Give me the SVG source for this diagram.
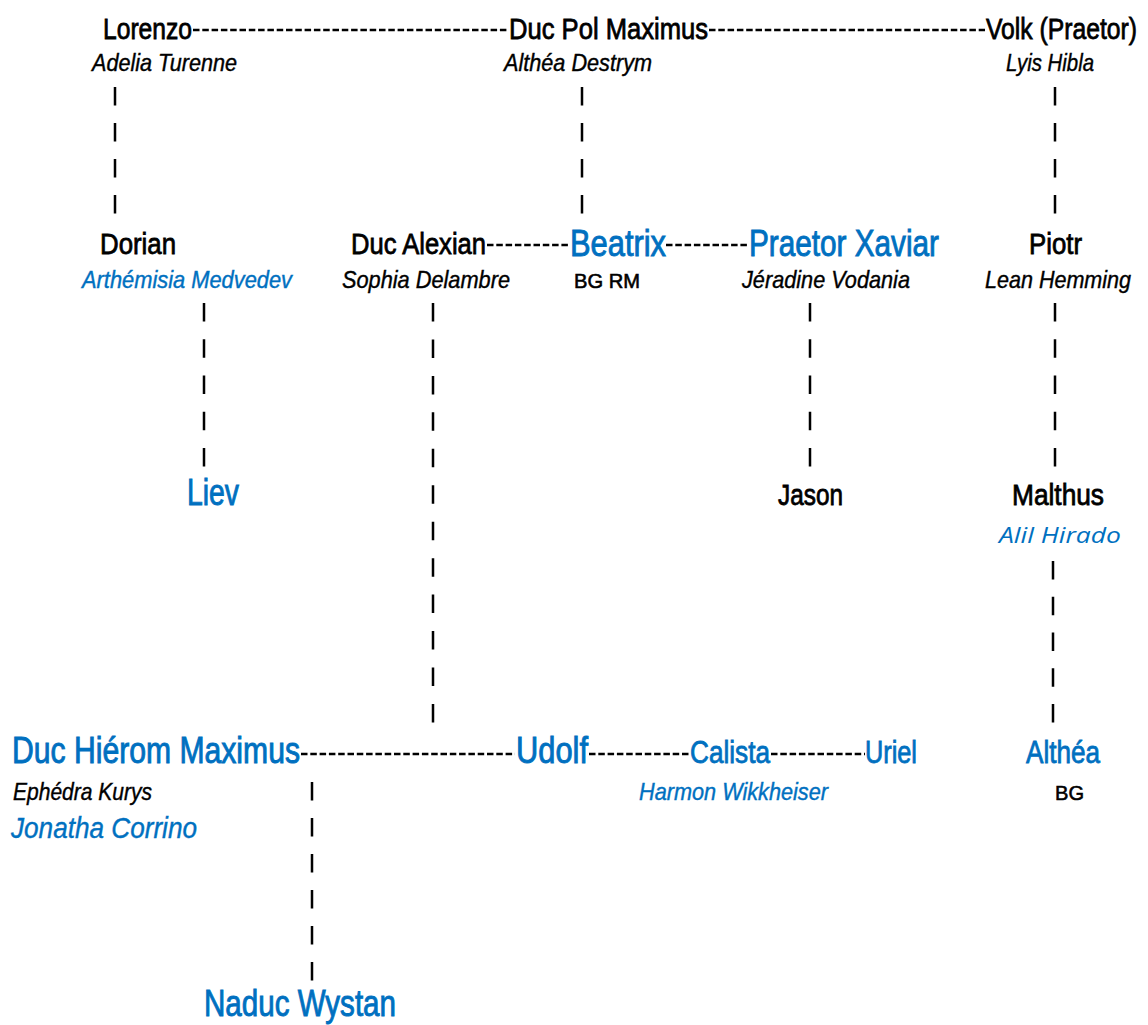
<svg xmlns="http://www.w3.org/2000/svg" width="1148" height="1025" viewBox="0 0 1148 1025">
<style>
text{font-family:"Liberation Sans Narrow","Liberation Sans",sans-serif;}
.n{font-size:30px;fill:#000;stroke:#000;stroke-width:0.8px;}
.bl{font-size:36px;fill:#0070C0;stroke:#0070C0;stroke-width:0.9px;}
.bm{font-size:31px;fill:#0070C0;stroke:#0070C0;stroke-width:0.8px;}
.s{font-size:24px;font-style:italic;fill:#000;stroke:#000;stroke-width:0.4px;}
.sb{font-size:24px;font-style:italic;fill:#0070C0;stroke:#0070C0;stroke-width:0.4px;}
.r{font-size:21px;fill:#000;stroke:#000;stroke-width:0.6px;}
.c line{stroke:#000;stroke-width:2.5;fill:none;}
.h{stroke-dasharray:6.5 2.8;}
</style>
<rect width="1148" height="1025" fill="#fff"/>
<g id="connectors" class="c">
<line class="h" x1="193" y1="30" x2="509" y2="30"/>
<line class="h" x1="709" y1="30" x2="985" y2="30"/>
<line class="h" x1="487" y1="245" x2="569" y2="245"/>
<line class="h" x1="666" y1="245" x2="748" y2="245"/>
<line class="h" x1="301" y1="754" x2="515" y2="754"/>
<line class="h" x1="589" y1="754" x2="690" y2="754"/>
<line class="h" x1="771" y1="754" x2="865" y2="754"/>
<line x1="115" y1="87" x2="115" y2="214" stroke-dasharray="18.5 17.5"/>
<line x1="582" y1="87" x2="582" y2="214" stroke-dasharray="18.5 17.5"/>
<line x1="1055" y1="87" x2="1055" y2="214" stroke-dasharray="18.5 17.5"/>
<line x1="204" y1="303" x2="204" y2="467" stroke-dasharray="18.5 17.75"/>
<line x1="433" y1="303" x2="433" y2="723" stroke-dasharray="18.5 17.95"/>
<line x1="810" y1="303" x2="810" y2="467" stroke-dasharray="18.5 17.75"/>
<line x1="1055" y1="303" x2="1055" y2="467" stroke-dasharray="18.5 17.75"/>
<line x1="1053" y1="561" x2="1053" y2="723" stroke-dasharray="18.5 17.25"/>
<line x1="312" y1="782" x2="312" y2="982" stroke-dasharray="18.5 17.5"/>
</g>
<g id="lorenzo"><text class="n" x="103" y="39" textLength="89" lengthAdjust="spacingAndGlyphs">Lorenzo</text><text class="s" x="92" y="71" textLength="145" lengthAdjust="spacingAndGlyphs">Adelia Turenne</text></g>
<g id="duc-pol-maximus"><text class="n" x="509" y="39" textLength="199" lengthAdjust="spacingAndGlyphs">Duc Pol Maximus</text><text class="s" x="504" y="71" textLength="148" lengthAdjust="spacingAndGlyphs">Althéa Destrym</text></g>
<g id="volk"><text class="n" x="986" y="39" textLength="151" lengthAdjust="spacingAndGlyphs">Volk (Praetor)</text><text class="s" x="1006" y="71" textLength="88" lengthAdjust="spacingAndGlyphs">Lyis Hibla</text></g>
<g id="dorian"><text class="n" x="100" y="254" textLength="76" lengthAdjust="spacingAndGlyphs">Dorian</text><text class="sb" x="82" y="288" textLength="210" lengthAdjust="spacingAndGlyphs">Arthémisia Medvedev</text></g>
<g id="duc-alexian"><text class="n" x="351" y="254" textLength="135" lengthAdjust="spacingAndGlyphs">Duc Alexian</text><text class="s" x="342" y="288" textLength="168" lengthAdjust="spacingAndGlyphs">Sophia Delambre</text></g>
<g id="beatrix"><text class="bl" x="570" y="256" textLength="96" lengthAdjust="spacingAndGlyphs">Beatrix</text><text class="r" x="574" y="288" textLength="66" lengthAdjust="spacingAndGlyphs">BG RM</text></g>
<g id="praetor-xaviar"><text class="bl" x="749" y="256" textLength="190" lengthAdjust="spacingAndGlyphs">Praetor Xaviar</text><text class="s" x="742" y="288" textLength="168" lengthAdjust="spacingAndGlyphs">Jéradine Vodania</text></g>
<g id="piotr"><text class="n" x="1029" y="254" textLength="53" lengthAdjust="spacingAndGlyphs">Piotr</text><text class="s" x="985" y="288" textLength="146" lengthAdjust="spacingAndGlyphs">Lean Hemming</text></g>
<g id="liev"><text class="bl" x="187" y="505" textLength="52" lengthAdjust="spacingAndGlyphs">Liev</text></g>
<g id="jason"><text class="n" x="778" y="505" textLength="65" lengthAdjust="spacingAndGlyphs">Jason</text></g>
<g id="malthus"><text class="n" x="1012" y="505" textLength="92" lengthAdjust="spacingAndGlyphs">Malthus</text><text x="999" y="543" font-size="22" font-style="italic" fill="#0070C0" textLength="122" lengthAdjust="spacingAndGlyphs" style="font-family:'Open Sans',sans-serif">Alil Hirado</text></g>
<g id="duc-hierom-maximus"><text class="bl" x="12" y="763" textLength="288" lengthAdjust="spacingAndGlyphs">Duc Hiérom Maximus</text><text class="s" x="13" y="800" textLength="139" lengthAdjust="spacingAndGlyphs">Ephédra Kurys</text><text class="sb" x="11" y="838" style="font-size:30px" textLength="186" lengthAdjust="spacingAndGlyphs">Jonatha Corrino</text></g>
<g id="udolf"><text class="bl" x="516" y="763" textLength="72" lengthAdjust="spacingAndGlyphs">Udolf</text></g>
<g id="calista"><text class="bm" x="690" y="763" textLength="80" lengthAdjust="spacingAndGlyphs">Calista</text><text class="sb" x="639" y="800" textLength="189" lengthAdjust="spacingAndGlyphs">Harmon Wikkheiser</text></g>
<g id="uriel"><text class="bm" x="865" y="763" textLength="52" lengthAdjust="spacingAndGlyphs">Uriel</text></g>
<g id="althea"><text class="bm" x="1026" y="763" textLength="74" lengthAdjust="spacingAndGlyphs">Althéa</text><text class="r" x="1055" y="800" textLength="29" lengthAdjust="spacingAndGlyphs">BG</text></g>
<g id="naduc-wystan"><text class="bl" x="204" y="1016" textLength="192" lengthAdjust="spacingAndGlyphs">Naduc Wystan</text></g>
</svg>
